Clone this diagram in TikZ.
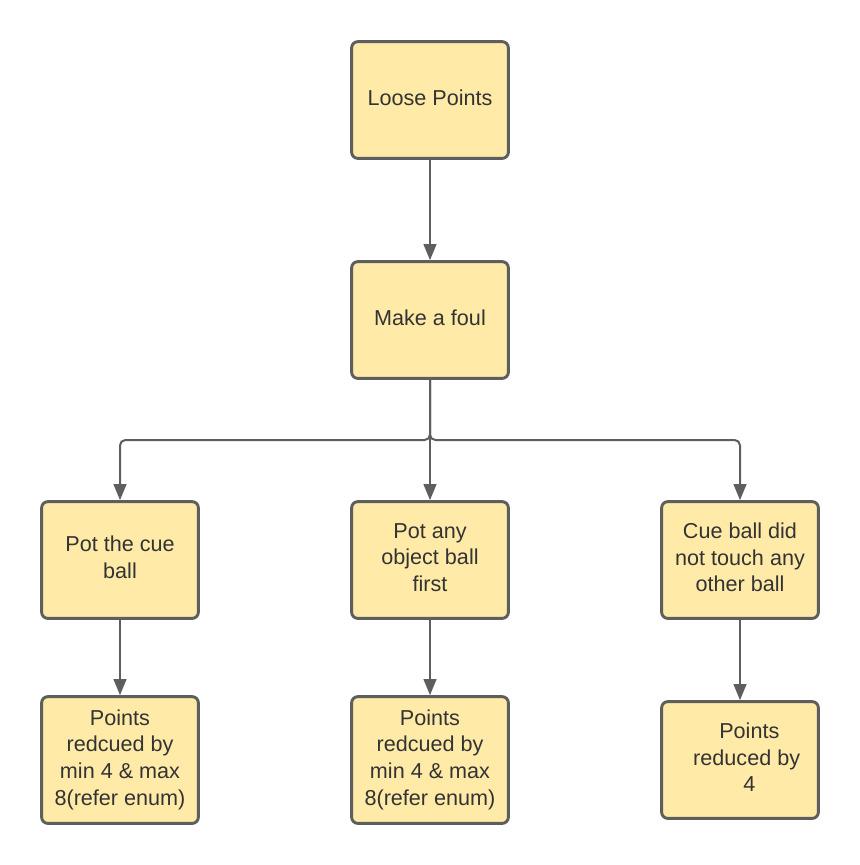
\documentclass[tikz,border=0pt]{standalone}
\usepackage{fontspec}
\setmainfont{Liberation Sans}
\usetikzlibrary{arrows.meta}
\definecolor{boxfill}{HTML}{FFEAA8}
\definecolor{boxline}{HTML}{5E5E5E}
\definecolor{txt}{HTML}{333333}
\tikzset{
  box/.style={draw=boxline, fill=boxfill, line width=2.2pt, rounded corners=4.5pt,
    minimum width=117.5pt, minimum height=87.5pt, align=center, text=txt,
    font=\fontsize{16.2pt}{20pt}\selectfont, inner sep=0pt,
    execute at end node={\rule[-4pt]{0pt}{1pt}}},
  tallbox/.style={box, minimum height=95pt},
  conn/.style={draw=boxline, line width=1.5pt, -{Triangle[length=12pt,width=9.5pt]}},
}
\begin{document}
\begin{tikzpicture}[x=0.75pt,y=-0.75pt]
\useasboundingbox (0,0) rectangle (860,865);
\node[box] (loose) at (430,100) {Loose Points};
\node[box] (foul) at (430,320) {Make a foul};
\node[box] (cue) at (120,560) {Pot the cue\\ball};
\node[box] (obj) at (430,560) {Pot any\\object ball\\first};
\node[box] (touch) at (740,560) {Cue ball did\\not touch any\\other ball};
\node[tallbox] (p1) at (120,760) {Points\\redcued by\\min 4 \& max\\8(refer enum)};
\node[tallbox] (p2) at (430,760) {Points\\redcued by\\min 4 \& max\\8(refer enum)};
\node[box] (p3) at (740,760) {\hspace*{14pt}Points\\\hspace*{10pt}reduced by\\\hspace*{14pt}4};
\coordinate (j) at (430,440);
\draw[conn] (loose) -- (obj.north |- foul.north);
\draw[conn] (foul.south) -- (obj.north);
\draw[conn, rounded corners=4pt] (foul.south) -- (j) -| (cue.north);
\draw[conn, rounded corners=4pt] (foul.south) -- (j) -| (touch.north);
\draw[conn] (cue) -- (p1);
\draw[conn] (obj) -- (p2);
\draw[conn] (touch) -- (p3);
\end{tikzpicture}
\end{document}
